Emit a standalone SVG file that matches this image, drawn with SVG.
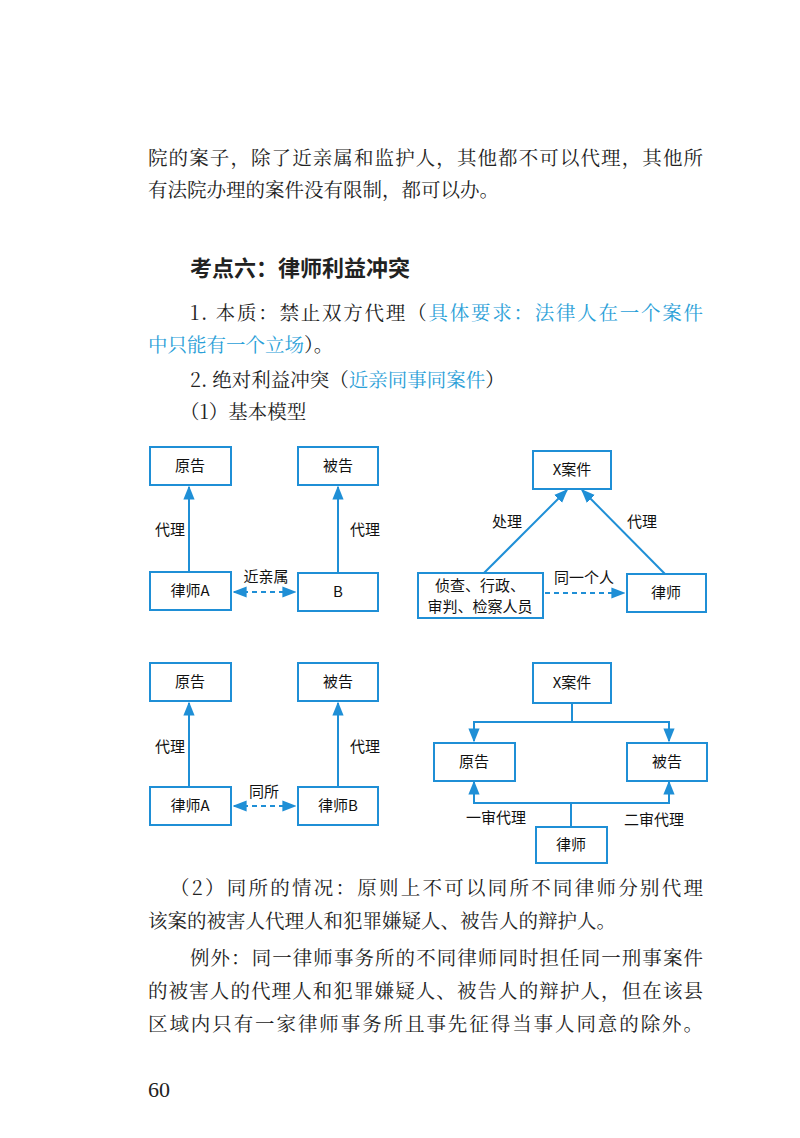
<svg xmlns="http://www.w3.org/2000/svg" width="800" height="1138" viewBox="0 0 800 1138">
<style>
.b{font-family:"Noto Serif CJK SC","Noto Sans CJK SC",serif;font-size:19.5px;fill:#222}
.h{font-family:"Noto Sans CJK SC",sans-serif;font-size:22px;font-weight:bold;fill:#222}
.bl{fill:#2aa0d8}
.n rect{fill:#fff;stroke:#1f8fd6;stroke-width:2}
.t{font-family:"Noto Sans CJK SC",sans-serif;font-size:15px;fill:#111;text-anchor:middle}
.c line,.c polyline{stroke:#1f8fd6;stroke-width:2;fill:none}
.d{stroke-dasharray:5 4}
</style>
<defs>
<marker id="a" viewBox="0 0 10 10" refX="9" refY="5" markerWidth="7" markerHeight="7" orient="auto-start-reverse"><path d="M0,1 L10,5 L0,9 z" fill="#1f8fd6"/></marker>
</defs>
<rect width="800" height="1138" fill="#fff"/>
<text class="b" x="148" y="165" textLength="555">院的案子，除了近亲属和监护人，其他都不可以代理，其他所</text>
<text class="b" x="148" y="197">有法院办理的案件没有限制，都可以办。</text>
<text class="h" x="190" y="276">考点六：律师利益冲突</text>
<text class="b" x="190" y="320" textLength="513">1. 本质：禁止双方代理（<tspan class="bl">具体要求：法律人在一个案件</tspan></text>
<text class="b" x="148" y="352"><tspan class="bl">中只能有一个立场</tspan>）。</text>
<text class="b" x="190" y="387">2. 绝对利益冲突（<tspan class="bl">近亲同事同案件</tspan>）</text>
<text class="b" x="180" y="419">（1）基本模型</text>
<g class="c">
<line x1="189" y1="572" x2="189" y2="487" marker-end="url(#a)"/>
<line x1="338" y1="573" x2="338" y2="487" marker-end="url(#a)"/>
<line class="d" x1="234" y1="592" x2="295" y2="592" marker-start="url(#a)" marker-end="url(#a)"/>
<line x1="484" y1="573" x2="567" y2="490" marker-end="url(#a)"/>
<line x1="665" y1="574" x2="582" y2="490" marker-end="url(#a)"/>
<line class="d" x1="545" y1="593" x2="624" y2="593" marker-end="url(#a)"/>
<line x1="189" y1="787" x2="189" y2="703" marker-end="url(#a)"/>
<line x1="338" y1="787" x2="338" y2="703" marker-end="url(#a)"/>
<line class="d" x1="234" y1="806" x2="295" y2="806" marker-start="url(#a)" marker-end="url(#a)"/>
<line x1="572" y1="703" x2="572" y2="722"/>
<polyline points="474,741 474,722 669,722 669,741" marker-start="url(#a)" marker-end="url(#a)"/>
<polyline points="474,782 474,803 669,803 669,782" marker-start="url(#a)" marker-end="url(#a)"/>
<line x1="571" y1="827" x2="571" y2="803"/>
</g>
<g class="t">
<text x="170" y="535">代理</text><text x="365" y="535">代理</text><text x="266" y="582">近亲属</text>
<text x="507" y="527">处理</text><text x="642" y="527">代理</text><text x="584" y="583">同一个人</text>
<text x="170" y="752">代理</text><text x="365" y="752">代理</text><text x="264" y="797">同所</text>
<text x="496" y="823">一审代理</text><text x="654" y="825">二审代理</text>
</g>
<g id="n1" class="n"><rect x="150" y="447" width="81" height="38"/><text class="t" x="190" y="471">原告</text></g>
<g id="n2" class="n"><rect x="298" y="447" width="80" height="38"/><text class="t" x="338" y="471">被告</text></g>
<g id="n3" class="n"><rect x="150" y="572" width="81" height="38"/><text class="t" x="190" y="596">律师A</text></g>
<g id="n4" class="n"><rect x="298" y="573" width="80" height="38"/><text class="t" x="338" y="597">B</text></g>
<g id="n5" class="n"><rect x="533" y="451" width="78" height="38"/><text class="t" x="572" y="475">X案件</text></g>
<g id="n6" class="n"><rect x="418" y="573" width="125" height="45"/><text class="t" x="480" y="591">侦查、行政、</text><text class="t" x="480" y="612">审判、检察人员</text></g>
<g id="n7" class="n"><rect x="627" y="574" width="79" height="38"/><text class="t" x="666" y="598">律师</text></g>
<g id="n8" class="n"><rect x="150" y="663" width="81" height="38"/><text class="t" x="190" y="687">原告</text></g>
<g id="n9" class="n"><rect x="298" y="663" width="80" height="38"/><text class="t" x="338" y="687">被告</text></g>
<g id="n10" class="n"><rect x="150" y="787" width="81" height="38"/><text class="t" x="190" y="811">律师A</text></g>
<g id="n11" class="n"><rect x="298" y="787" width="80" height="38"/><text class="t" x="338" y="811">律师B</text></g>
<g id="n12" class="n"><rect x="533" y="663" width="78" height="40"/><text class="t" x="572" y="688">X案件</text></g>
<g id="n13" class="n"><rect x="434" y="743" width="81" height="38"/><text class="t" x="474" y="767">原告</text></g>
<g id="n14" class="n"><rect x="627" y="743" width="80" height="38"/><text class="t" x="667" y="767">被告</text></g>
<g id="n15" class="n"><rect x="536" y="827" width="71" height="36"/><text class="t" x="571" y="850">律师</text></g>
<text class="b" x="170" y="895" textLength="533">（2）同所的情况：原则上不可以同所不同律师分别代理</text>
<text class="b" x="148" y="928">该案的被害人代理人和犯罪嫌疑人、被告人的辩护人。</text>
<text class="b" x="190" y="965" textLength="513">例外：同一律师事务所的不同律师同时担任同一刑事案件</text>
<text class="b" x="148" y="998" textLength="555">的被害人的代理人和犯罪嫌疑人、被告人的辩护人，但在该县</text>
<text class="b" x="148" y="1031" textLength="555">区域内只有一家律师事务所且事先征得当事人同意的除外。</text>
<text x="148" y="1097" style="font-family:'Liberation Serif',serif;font-size:22px;fill:#222">60</text>
</svg>
